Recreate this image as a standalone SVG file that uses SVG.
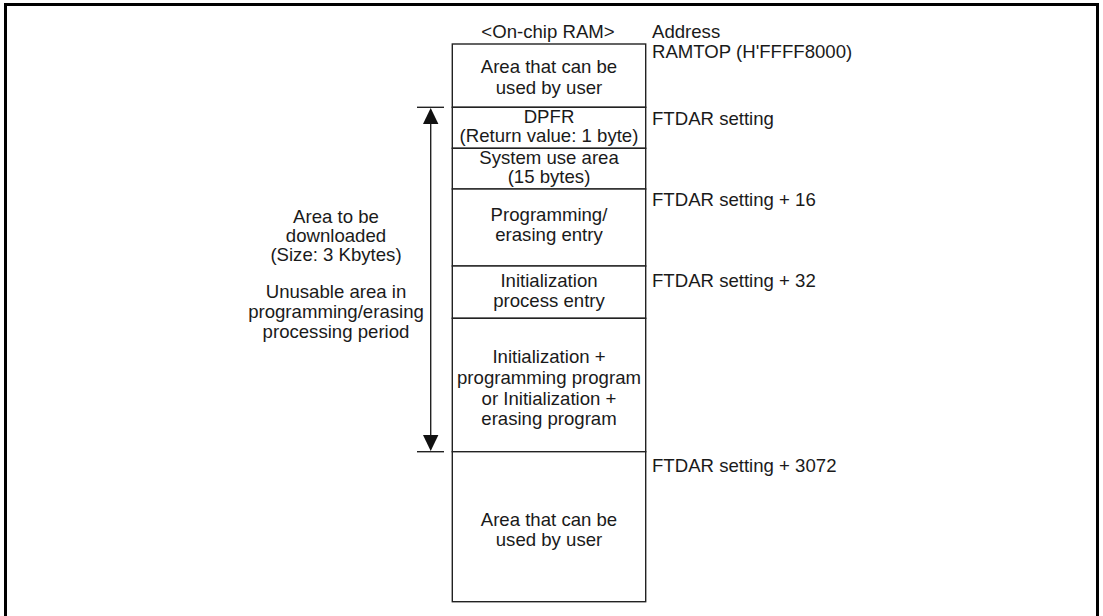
<svg xmlns="http://www.w3.org/2000/svg" width="1103" height="616" viewBox="0 0 1103 616">
<style>
text{font-family:"Liberation Sans",Arial,sans-serif;font-size:18.6px;fill:#1a1a1a}
.c{text-anchor:middle}
.cell{fill:#fff;stroke:#222;stroke-width:1.4}
.ln{stroke:#222;stroke-width:1.4;fill:none}
.head{fill:#111;stroke:none}
</style>
<rect x="5.5" y="4.5" width="1092" height="620" fill="#fff" stroke="#000" stroke-width="3"/>
<text class="c" x="548" y="38">&lt;On-chip RAM&gt;</text>
<g id="addresses">
<text x="652" y="38">Address</text>
<text x="652" y="58">RAMTOP (H'FFFF8000)</text>
<text x="652" y="125">FTDAR setting</text>
<text x="652" y="206">FTDAR setting + 16</text>
<text x="652" y="287">FTDAR setting + 32</text>
<text x="652" y="472">FTDAR setting + 3072</text>
</g>
<g id="user-top">
<rect class="cell" x="452.3" y="44" width="193.4" height="63.3"/>
<text class="c" x="549" y="73">Area that can be</text>
<text class="c" x="549" y="94">used by user</text>
</g>
<g id="dpfr">
<rect class="cell" x="452.3" y="107.3" width="193.4" height="41"/>
<text class="c" x="549" y="122.5">DPFR</text>
<text class="c" x="549" y="142">(Return value: 1 byte)</text>
</g>
<g id="system">
<rect class="cell" x="452.3" y="148.3" width="193.4" height="40.7"/>
<text class="c" x="549" y="163.5">System use area</text>
<text class="c" x="549" y="183">(15 bytes)</text>
</g>
<g id="prog-entry">
<rect class="cell" x="452.3" y="189" width="193.4" height="77"/>
<text class="c" x="549" y="221">Programming/</text>
<text class="c" x="549" y="241">erasing entry</text>
</g>
<g id="init-entry">
<rect class="cell" x="452.3" y="266" width="193.4" height="52.3"/>
<text class="c" x="549" y="287">Initialization</text>
<text class="c" x="549" y="307">process entry</text>
</g>
<g id="program">
<rect class="cell" x="452.3" y="318.3" width="193.4" height="133.4"/>
<text class="c" x="549" y="363">Initialization +</text>
<text class="c" x="549" y="384">programming program</text>
<text class="c" x="549" y="405">or Initialization +</text>
<text class="c" x="549" y="425">erasing program</text>
</g>
<g id="user-bottom">
<rect class="cell" x="452.3" y="451.7" width="193.4" height="150"/>
<text class="c" x="549" y="526">Area that can be</text>
<text class="c" x="549" y="546">used by user</text>
</g>
<g id="connectors">
<line class="ln" x1="417" y1="107.3" x2="444" y2="107.3"/>
<line class="ln" x1="417" y1="451.7" x2="444" y2="451.7"/>
<line class="ln" x1="430.7" y1="120" x2="430.7" y2="440"/>
<polygon class="head" points="430.7,108 423,124 438.4,124"/>
<polygon class="head" points="430.7,451 423,435 438.4,435"/>
</g>
<g id="side-label">
<text class="c" x="336" y="223">Area to be</text>
<text class="c" x="336" y="242">downloaded</text>
<text class="c" x="336" y="261">(Size: 3 Kbytes)</text>
<text class="c" x="336" y="298">Unusable area in</text>
<text class="c" x="336" y="318">programming/erasing</text>
<text class="c" x="336" y="338">processing period</text>
</g>
</svg>
